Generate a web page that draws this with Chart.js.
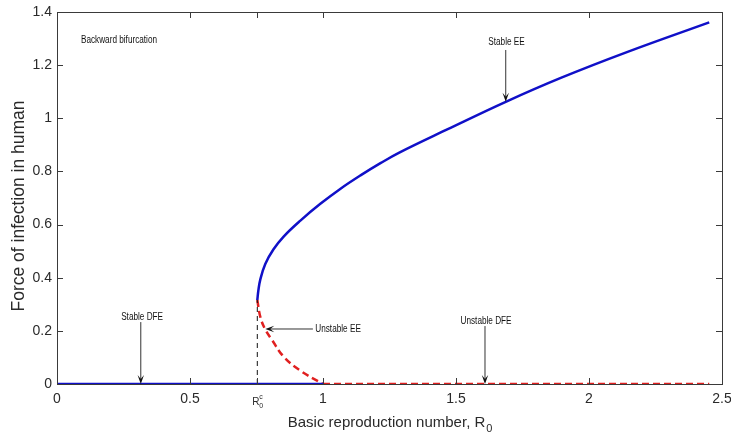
<!DOCTYPE html>
<html>
<head>
<meta charset="utf-8">
<script src="https://cdn.jsdelivr.net/npm/chart.js@4.4.1/dist/chart.umd.min.js"></script>
<style>
    html, body { margin: 0; padding: 0; background: #fff; }
    #wrap { width: 731px; height: 437px; }
</style>
</head>
<body>
<div id="wrap"><canvas id="bifcanvas" width="731" height="437"></canvas></div>
<script>
// threshold value of R0 where the endemic branches meet
var r0c = 0.753;

// stable endemic equilibrium (upper branch)
var eeR0 = [0.753, 0.757, 0.764, 0.783, 0.814, 0.852, 0.915, 0.990, 1.066, 1.141, 1.216, 1.285, 1.467, 1.687, 1.894, 2.145, 2.452];
var eeLambda = [0.316, 0.352, 0.392, 0.452, 0.507, 0.555, 0.615, 0.678, 0.735, 0.785, 0.831, 0.870, 0.958, 1.062, 1.152, 1.250, 1.361];

// unstable endemic equilibrium (lower branch)
var ueR0 = [0.753, 0.765, 0.783, 0.808, 0.852, 0.915, 1.000];
var ueLambda = [0.316, 0.250, 0.205, 0.166, 0.103, 0.050, 0.000];

// disease free equilibrium
var dfeStableR0 = [0, 1];
var dfeStableLambda = [0, 0];
var dfeUnstableR0 = [1, 2.452];
var dfeUnstableLambda = [0, 0];

// vertical guide at R0c
var guideR0 = [r0c, r0c];
var guideLambda = [0, 0.316];

var xTicks = [0, 0.5, r0c, 1, 1.5, 2, 2.5];
var xTickLabels = ['0', '0.5', '', '1', '1.5', '2', '2.5'];
var yTicks = [0, 0.2, 0.4, 0.6, 0.8, 1, 1.2, 1.4];
var yTickLabels = ['0', '0.2', '0.4', '0.6', '0.8', '1', '1.2', '1.4'];

// labels with arrows: text position, arrow from -> to (data units)
var notes = [
    { text: 'Backward bifurcation', x: 0.090, y: 1.295, align: 'left' },
    { text: 'Stable EE', x: 1.690, y: 1.287, align: 'center', from: [1.687, 1.257], to: [1.687, 1.062] },
    { text: 'Stable DFE', x: 0.320, y: 0.253, align: 'center', from: [0.315, 0.233], to: [0.315, 0.0] },
    { text: 'Unstable EE', x: 0.971, y: 0.207, align: 'left', from: [0.962, 0.207], to: [0.783, 0.207] },
    { text: 'Unstable DFE', x: 1.613, y: 0.238, align: 'center', from: [1.609, 0.218], to: [1.609, 0.0] },
];

function pts(xs, ys) {
    return xs.map(function(x, i) { return { x: x, y: ys[i] }; });
}

var axisColor = '#3a3a3a';
var textColor = '#2a2a2a';
var noteFont = '10px "Liberation Sans", Arial, sans-serif';
var noteSquash = 0.82;

function drawArrow(ctx, x1, y1, x2, y2) {
    var ang = Math.atan2(y2 - y1, x2 - x1);
    var len = 9, half = 3.2;
    ctx.beginPath();
    ctx.moveTo(x1, y1);
    ctx.lineTo(x2 - Math.cos(ang) * 4, y2 - Math.sin(ang) * 4);
    ctx.stroke();
    ctx.beginPath();
    ctx.moveTo(x2, y2);
    ctx.lineTo(x2 - len * Math.cos(ang) + half * Math.sin(ang), y2 - len * Math.sin(ang) - half * Math.cos(ang));
    ctx.lineTo(x2 - 5 * Math.cos(ang), y2 - 5 * Math.sin(ang));
    ctx.lineTo(x2 - len * Math.cos(ang) - half * Math.sin(ang), y2 - len * Math.sin(ang) + half * Math.cos(ang));
    ctx.closePath();
    ctx.fill();
}

// box, inward ticks, axis titles and annotations
const boxPlugin = {
    id: 'matlabBox',
    afterDatasetsDraw: (chart) => {
        const {ctx, chartArea} = chart;
        const xs = chart.scales.x, ys = chart.scales.y;
        ctx.save();
        ctx.strokeStyle = axisColor;
        ctx.lineWidth = 1;
        ctx.beginPath();
        ctx.moveTo(chartArea.left + 0.5, chartArea.top + 0.5);
        ctx.lineTo(chartArea.right + 0.5, chartArea.top + 0.5);
        ctx.lineTo(chartArea.right + 0.5, chartArea.bottom + 0.5);
        ctx.stroke();
        ctx.beginPath();
        xTicks.forEach(function(v) {
            let px = Math.round(xs.getPixelForValue(v)) + 0.5;
            ctx.moveTo(px, chartArea.bottom);
            ctx.lineTo(px, chartArea.bottom - 6);
            ctx.moveTo(px, chartArea.top);
            ctx.lineTo(px, chartArea.top + 6);
        });
        yTicks.forEach(function(v) {
            let py = Math.round(ys.getPixelForValue(v)) + 0.5;
            ctx.moveTo(chartArea.left, py);
            ctx.lineTo(chartArea.left + 6, py);
            ctx.moveTo(chartArea.right, py);
            ctx.lineTo(chartArea.right - 6, py);
        });
        ctx.stroke();

        // R0^c tick label
        let rx = xs.getPixelForValue(r0c);
        ctx.fillStyle = textColor;
        ctx.textBaseline = 'alphabetic';
        ctx.textAlign = 'left';
        ctx.font = '10px "Liberation Sans", Arial, sans-serif';
        ctx.fillText('R', rx - 5, chartArea.bottom + 21);
        ctx.font = '7px "Liberation Sans", Arial, sans-serif';
        ctx.fillText('0', rx + 2, chartArea.bottom + 24);
        ctx.fillText('c', rx + 2, chartArea.bottom + 15);

        // x axis title with subscript
        ctx.font = '15px "Liberation Sans", Arial, sans-serif';
        let xt = 'Basic reproduction number, R';
        let w = ctx.measureText(xt).width;
        let cx = (chartArea.left + chartArea.right) / 2 - 3;
        ctx.fillText(xt, cx - w / 2, chartArea.bottom + 43);
        ctx.font = '11px "Liberation Sans", Arial, sans-serif';
        ctx.fillText('0', cx + w / 2 + 1, chartArea.bottom + 48);

        // y axis title
        ctx.save();
        ctx.translate(24, (chartArea.top + chartArea.bottom) / 2 + 8);
        ctx.rotate(-Math.PI / 2);
        ctx.textAlign = 'center';
        ctx.font = '17.5px "Liberation Sans", Arial, sans-serif';
        ctx.fillText('Force of infection in human', 0, 0);
        ctx.restore();

        // annotations
        ctx.font = noteFont;
        ctx.textBaseline = 'middle';
        ctx.strokeStyle = '#333';
        ctx.fillStyle = '#111';
        notes.forEach(function(n) {
            let tx = xs.getPixelForValue(n.x), ty = ys.getPixelForValue(n.y);
            ctx.save();
            ctx.translate(tx, ty);
            ctx.scale(noteSquash, 1);
            ctx.textAlign = n.align;
            ctx.fillText(n.text, 0, 0);
            ctx.restore();
            if (n.from) {
                drawArrow(ctx,
                    xs.getPixelForValue(n.from[0]), ys.getPixelForValue(n.from[1]),
                    xs.getPixelForValue(n.to[0]), ys.getPixelForValue(n.to[1]));
            }
        });
        ctx.restore();
    }
};

let ctx = document.getElementById('bifcanvas');
new Chart(ctx, {
    type: 'line',
    data: {
        datasets: [
            {
                label: 'Stable DFE',
                data: pts(dfeStableR0, dfeStableLambda),
                borderColor: '#1010c8',
                borderWidth: 2.5,
            }, {
                label: 'Threshold',
                data: pts(guideR0, guideLambda),
                borderColor: '#111',
                borderWidth: 1,
                borderDash: [5, 4],
            }, {
                label: 'Unstable DFE',
                data: pts(dfeUnstableR0, dfeUnstableLambda),
                borderColor: '#e02020',
                borderWidth: 2.5,
                borderDash: [7, 4],
            }, {
                label: 'Unstable EE',
                data: pts(ueR0, ueLambda),
                borderColor: '#e02020',
                borderWidth: 2.5,
                borderDash: [7, 4],
                tension: 0.4,
            }, {
                label: 'Stable EE',
                data: pts(eeR0, eeLambda),
                borderColor: '#1010c8',
                borderWidth: 2.5,
                tension: 0.4,
            }
        ],
    },
    options: {
        responsive: false,
        animation: { duration: 0 },
        layout: {
            padding: { top: 12, right: 9, left: 0, bottom: 0 },
        },
        elements: {
            point: { radius: 0 },
        },
        plugins: {
            legend: { display: false },
            tooltip: { enabled: false },
        },
        scales: {
            x: {
                type: 'linear',
                min: 0,
                max: 2.5,
                afterBuildTicks: (scale) => { scale.ticks = xTicks.map(v => ({ value: v })); },
                afterFit: (scale) => {
                    scale.height = 53;
                    scale.paddingLeft = 0;
                    scale.paddingRight = 0;
                },
                grid: { display: false, drawTicks: false },
                border: { display: true, color: axisColor },
                ticks: {
                    color: textColor,
                    padding: 7,
                    maxRotation: 0,
                    autoSkip: false,
                    font: { family: '"Liberation Sans", Arial, sans-serif', size: 14 },
                    callback: (v, i) => xTickLabels[i],
                },
            },
            y: {
                type: 'linear',
                min: 0,
                max: 1.4,
                afterBuildTicks: (scale) => { scale.ticks = yTicks.map(v => ({ value: v })); },
                afterFit: (scale) => {
                    scale.width = 57;
                    scale.paddingTop = 0;
                    scale.paddingBottom = 0;
                },
                grid: { display: false, drawTicks: false },
                border: { display: true, color: axisColor },
                ticks: {
                    color: textColor,
                    padding: 5,
                    autoSkip: false,
                    font: { family: '"Liberation Sans", Arial, sans-serif', size: 14 },
                    callback: (v, i) => yTickLabels[i],
                },
            },
        },
    },
    plugins: [boxPlugin],
});
</script>
</body>
</html>
